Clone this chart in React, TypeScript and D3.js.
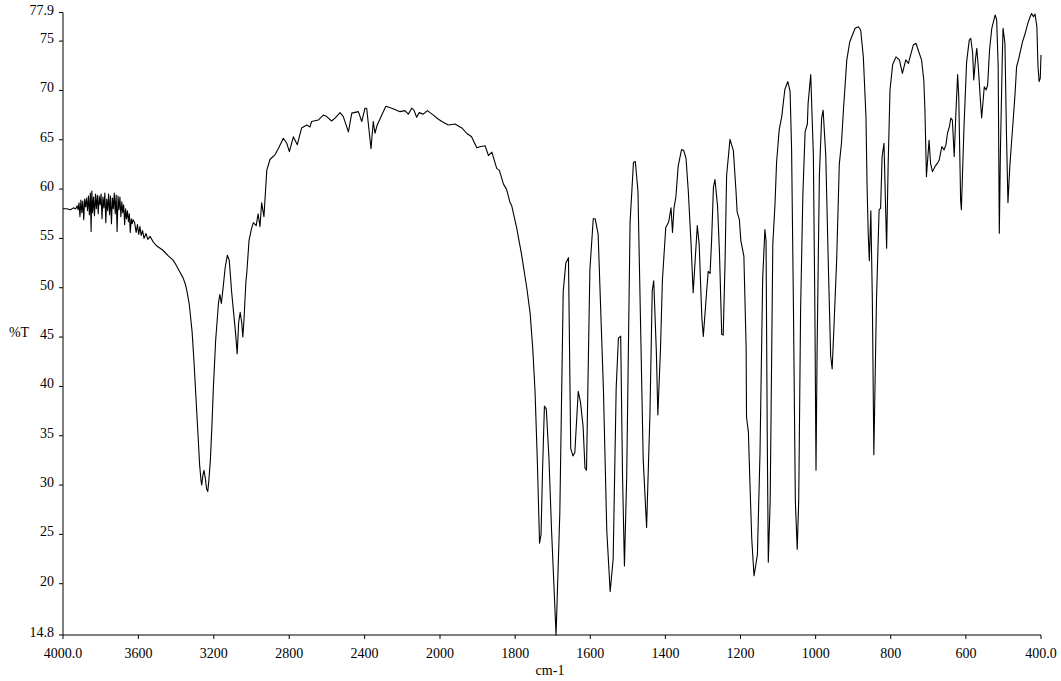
import React, { useRef, useEffect } from 'react';
import * as d3 from 'd3';

// x axis tick values (cm-1), the scale changes at 2000
const xTicks = [4000, 3600, 3200, 2800, 2400, 2000, 1800, 1600, 1400, 1200, 1000, 800, 600, 400];
const xTickLabels = ['4000.0', '3600', '3200', '2800', '2400', '2000', '1800', '1600', '1400', '1200', '1000', '800', '600', '400.0'];

// y axis tick values (%T)
const yTicks = [77.9, 75, 70, 65, 60, 55, 50, 45, 40, 35, 30, 25, 20, 14.8];
const yTickLabels = ['77.9', '75', '70', '65', '60', '55', '50', '45', '40', '35', '30', '25', '20', '14.8'];

// spectrum 4000-3000 cm-1 (noisy start, N-H band)
const highRange = [
  [4000, 58.0], [3980, 58.0], [3960, 57.9], [3945, 58.1], [3935, 58.0],
  [3930, 58.1], [3925, 58.3], [3920, 57.9], [3915, 58.6], [3910, 57.2], [3905, 58.9], [3900, 57.6],
  [3895, 58.8], [3890, 56.9], [3885, 59.0], [3880, 58.2], [3875, 59.1], [3870, 57.8], [3865, 59.3],
  [3860, 57.4], [3855, 59.6], [3851, 55.7], [3847, 59.8], [3843, 57.6], [3838, 59.2], [3833, 57.3],
  [3828, 59.5], [3823, 58.0], [3818, 59.4], [3813, 57.5], [3808, 59.3], [3803, 58.4], [3798, 59.5],
  [3793, 57.0], [3788, 59.2], [3783, 58.1], [3778, 59.6], [3773, 56.6], [3768, 59.0], [3763, 57.8],
  [3758, 59.5], [3753, 57.4], [3748, 59.3], [3743, 56.5], [3738, 59.1], [3733, 58.0], [3728, 59.6],
  [3723, 57.5], [3718, 59.4], [3713, 55.7], [3708, 59.3], [3703, 57.9], [3698, 59.2], [3693, 57.2],
  [3688, 58.7], [3683, 57.6], [3678, 58.4], [3673, 56.4], [3668, 58.0], [3663, 57.0], [3658, 57.8],
  [3653, 56.7], [3648, 57.5], [3643, 55.6], [3638, 57.0], [3633, 56.5], [3628, 56.9], [3620, 56.6],
  [3612, 55.6], [3605, 56.4], [3598, 55.4], [3592, 56.2], [3585, 55.3], [3578, 55.8], [3570, 55.0],
  [3560, 55.5], [3550, 54.9], [3538, 55.2], [3520, 54.6], [3500, 54.2], [3470, 53.8], [3440, 53.2],
  [3416, 52.8], [3400, 52.3], [3380, 51.6], [3363, 51.0], [3350, 50.3], [3342, 49.6], [3330, 48.3],
  [3315, 45.5], [3305, 42.5], [3295, 39.0], [3285, 35.5], [3275, 32.0], [3268, 30.5], [3264, 30.0],
  [3258, 31.0], [3252, 31.5], [3246, 30.8], [3238, 29.6], [3232, 29.35], [3226, 30.5], [3218, 32.6],
  [3210, 36.0], [3202, 40.0], [3190, 44.7], [3175, 48.5], [3168, 49.3], [3160, 48.4], [3150, 50.1],
  [3140, 52.0], [3128, 53.3], [3118, 52.8], [3105, 49.5], [3095, 47.5], [3085, 45.5], [3076, 43.3],
  [3068, 46.5], [3060, 47.5], [3052, 46.5], [3046, 45.0], [3040, 46.7], [3030, 50.5], [3025, 51.5],
  [3013, 54.8], [3000, 56.0],
];

// spectrum 3000-2000 cm-1
const midRange = [
  [2990, 56.6], [2975, 56.3], [2965, 57.5], [2955, 56.2], [2946, 58.6], [2934, 57.2], [2919, 61.9],
  [2902, 63.0], [2875, 63.5], [2858, 64.1], [2831, 65.15], [2813, 64.65], [2799, 63.8], [2778, 65.3],
  [2757, 64.5], [2734, 66.2], [2707, 66.5], [2690, 66.3], [2681, 66.85], [2646, 67.0], [2619, 67.5],
  [2601, 67.35], [2575, 66.9], [2557, 67.2], [2530, 67.75], [2513, 67.35], [2486, 65.8], [2468, 67.7],
  [2433, 67.85], [2415, 66.85], [2398, 68.2], [2389, 68.2], [2366, 64.1], [2354, 66.85], [2345, 65.66],
  [2333, 66.5], [2309, 67.5], [2287, 68.4], [2256, 68.2], [2230, 68.0], [2212, 67.85], [2186, 67.95],
  [2168, 67.6], [2150, 68.2], [2138, 68.0], [2124, 67.28], [2110, 67.75], [2089, 67.6], [2067, 67.95],
  [2035, 67.5], [2010, 67.1],
];

// spectrum 2000-400 cm-1 (fingerprint)
const lowRange = [
  [1995, 66.85], [1978, 66.5], [1960, 66.6], [1942, 66.2], [1929, 65.66], [1916, 65.3], [1902, 64.2],
  [1894, 64.3], [1880, 64.4], [1871, 63.4], [1862, 63.75], [1849, 62.1], [1842, 61.9], [1831, 60.5],
  [1823, 60.0], [1814, 58.7], [1809, 58.3], [1796, 56.1], [1783, 53.4], [1769, 50.0], [1760, 47.4],
  [1753, 43.8], [1747, 39.5], [1741, 32.6], [1735, 24.1], [1731, 25.0], [1727, 31.5], [1722, 38.0],
  [1717, 37.7], [1710, 32.8], [1703, 25.4], [1691, 14.8], [1681, 27.2], [1672, 49.6], [1665, 52.5],
  [1658, 53.05], [1652, 33.7], [1646, 32.95], [1641, 33.3], [1632, 39.5], [1626, 38.4], [1619, 35.9],
  [1614, 31.7], [1610, 31.5], [1601, 51.8], [1592, 57.0], [1587, 57.0], [1579, 55.4], [1565, 39.8],
  [1556, 25.4], [1547, 19.2], [1539, 22.5], [1531, 39.8], [1525, 44.9], [1519, 45.1], [1514, 30.8],
  [1509, 21.8], [1503, 30.8], [1494, 56.6], [1485, 62.7], [1480, 62.8], [1473, 59.8], [1459, 32.6],
  [1450, 25.7], [1441, 37.3], [1435, 49.7], [1431, 50.7], [1424, 43.5], [1420, 37.1], [1413, 43.8],
  [1408, 50.7], [1399, 56.1], [1391, 56.7], [1385, 58.1], [1381, 55.6], [1377, 58.1], [1372, 59.2],
  [1366, 62.3], [1357, 64.0], [1351, 63.9], [1345, 63.1], [1339, 59.8], [1332, 54.75], [1326, 49.5],
  [1315, 56.3], [1310, 54.4], [1303, 47.0], [1299, 45.06], [1290, 49.7], [1286, 51.65], [1281, 51.45],
  [1277, 54.75], [1272, 60.2], [1268, 60.97], [1261, 58.25], [1256, 53.6], [1250, 45.25], [1246, 45.2],
  [1241, 52.8], [1237, 61.35], [1228, 65.04], [1219, 63.9], [1212, 59.8], [1209, 57.7], [1203, 56.9],
  [1199, 54.75], [1191, 53.2], [1185, 43.9], [1184, 36.9], [1179, 35.36], [1175, 30.3], [1170, 24.5],
  [1164, 20.8], [1159, 21.97], [1155, 22.95], [1148, 33.4], [1141, 50.9], [1135, 55.9], [1132, 54.75],
  [1129, 36.1], [1126, 22.17], [1121, 28.4], [1114, 54.4], [1108, 58.6], [1104, 62.7], [1097, 66.0],
  [1090, 67.4], [1082, 70.1], [1074, 70.9], [1068, 69.9], [1064, 64.1], [1059, 47.8], [1054, 28.4],
  [1049, 23.5], [1045, 28.4], [1040, 47.8], [1034, 59.4], [1028, 65.8], [1022, 66.6], [1020, 68.7],
  [1013, 71.6], [1006, 63.4], [1002, 47.8], [999, 31.5], [996, 43.9], [990, 61.35], [984, 67.2],
  [980, 68.0], [973, 63.4], [966, 52.05], [960, 43.1], [956, 41.76], [951, 46.2], [944, 52.8],
  [937, 62.5], [931, 64.75], [926, 68.0], [917, 73.1], [909, 74.94], [895, 76.3], [886, 76.46],
  [880, 76.1], [873, 73.4], [866, 67.34], [863, 60.25], [860, 55.5], [857, 52.75], [853, 57.8],
  [849, 48.77], [845, 33.07], [838, 48.77], [831, 57.9], [827, 58.06], [823, 63.3], [818, 64.65],
  [816, 61.6], [811, 54.0], [807, 62.3], [802, 70.05], [795, 72.6], [786, 73.4], [777, 73.1],
  [769, 71.74], [760, 73.1], [753, 72.75], [740, 74.6], [733, 74.78], [727, 74.1], [718, 73.1],
  [712, 71.06], [709, 68.0], [705, 61.26], [698, 64.95], [694, 62.6], [689, 61.77], [682, 62.3],
  [676, 62.6], [671, 62.96], [664, 64.3], [658, 63.97], [653, 64.5], [649, 65.66], [644, 66.3],
  [640, 67.2], [636, 67.0], [631, 63.3], [627, 67.34], [622, 71.6], [619, 69.4], [614, 58.9],
  [612, 57.9], [605, 66.3], [598, 72.9], [591, 75.1], [587, 75.29], [582, 73.77], [579, 71.06],
  [574, 73.3], [571, 74.27], [567, 72.4], [562, 69.4], [558, 67.2], [554, 69.0], [551, 70.38],
  [546, 70.05], [542, 70.55], [537, 74.1], [531, 76.3], [522, 77.65], [518, 77.14], [514, 72.4],
  [511, 55.53], [508, 63.97], [503, 73.4], [501, 76.3], [496, 74.78], [492, 65.66], [488, 58.63],
  [483, 62.3], [478, 64.98], [474, 67.0], [469, 69.7], [465, 72.4], [460, 73.1], [456, 73.77],
  [449, 74.94], [442, 75.8], [435, 76.8], [429, 77.47], [425, 77.8], [420, 77.47], [416, 77.75],
  [411, 76.46], [408, 72.4], [405, 70.9], [402, 71.23], [400, 73.6],
];

const FONT = '"Liberation Serif", "Times New Roman", serif';

function App() {
  const ref = useRef<SVGSVGElement>(null);

  useEffect(() => {
    const svg = d3.select(ref.current);
    svg.selectAll('*').remove();

    // piecewise x scale: 4000-2000 is compressed, 2000-400 expanded
    const x = d3.scaleLinear().domain([4000, 2000, 400]).range([63, 440, 1041]);
    const y = d3.scaleLinear().domain([14.8, 77.9]).range([635, 12.5]);

    const spectrum = [...highRange, ...midRange, ...lowRange];

    // y axis
    svg.append('line')
      .attr('x1', 63).attr('x2', 63)
      .attr('y1', y(77.9)).attr('y2', y(14.8))
      .attr('stroke', '#000').attr('stroke-width', 1);

    svg.selectAll('.ytick')
      .data(yTicks)
      .enter()
      .append('line')
      .attr('x1', 59).attr('x2', 63)
      .attr('y1', d => y(d)).attr('y2', d => y(d))
      .attr('stroke', '#000');

    svg.selectAll('.ylabel')
      .data(yTicks)
      .enter()
      .append('text')
      .attr('x', 54)
      .attr('y', d => y(d) + 2)
      .attr('text-anchor', 'end')
      .attr('font-family', FONT)
      .attr('font-size', 14)
      .text((d, i) => yTickLabels[i]);

    svg.append('text')
      .attr('x', 19).attr('y', 337)
      .attr('text-anchor', 'middle')
      .attr('font-family', FONT)
      .attr('font-size', 14)
      .text('%T');

    // x axis
    svg.append('line')
      .attr('x1', x(4000)).attr('x2', x(400))
      .attr('y1', 635).attr('y2', 635)
      .attr('stroke', '#000').attr('stroke-width', 1);

    svg.selectAll('.xtick')
      .data(xTicks)
      .enter()
      .append('line')
      .attr('x1', d => x(d)).attr('x2', d => x(d))
      .attr('y1', 635).attr('y2', 639)
      .attr('stroke', '#000');

    svg.selectAll('.xlabel')
      .data(xTicks)
      .enter()
      .append('text')
      .attr('x', d => x(d))
      .attr('y', 658)
      .attr('text-anchor', 'middle')
      .attr('font-family', FONT)
      .attr('font-size', 14)
      .text((d, i) => xTickLabels[i]);

    svg.append('text')
      .attr('x', 550).attr('y', 675)
      .attr('text-anchor', 'middle')
      .attr('font-family', FONT)
      .attr('font-size', 14)
      .text('cm-1');

    // the spectrum trace
    const line = d3.line<number[]>()
      .x(d => x(d[0]))
      .y(d => y(d[1]));

    svg.append('path')
      .datum(spectrum)
      .attr('d', line)
      .attr('fill', 'none')
      .attr('stroke', '#000')
      .attr('stroke-width', 1.1)
      .attr('stroke-linejoin', 'round');
  }, []);

  return (
    <svg
      ref={ref}
      width={1061}
      height={681}
      style={{ position: 'absolute', left: 0, top: 0, background: '#fff', display: 'block' }}
    />
  );
}

export default App;
